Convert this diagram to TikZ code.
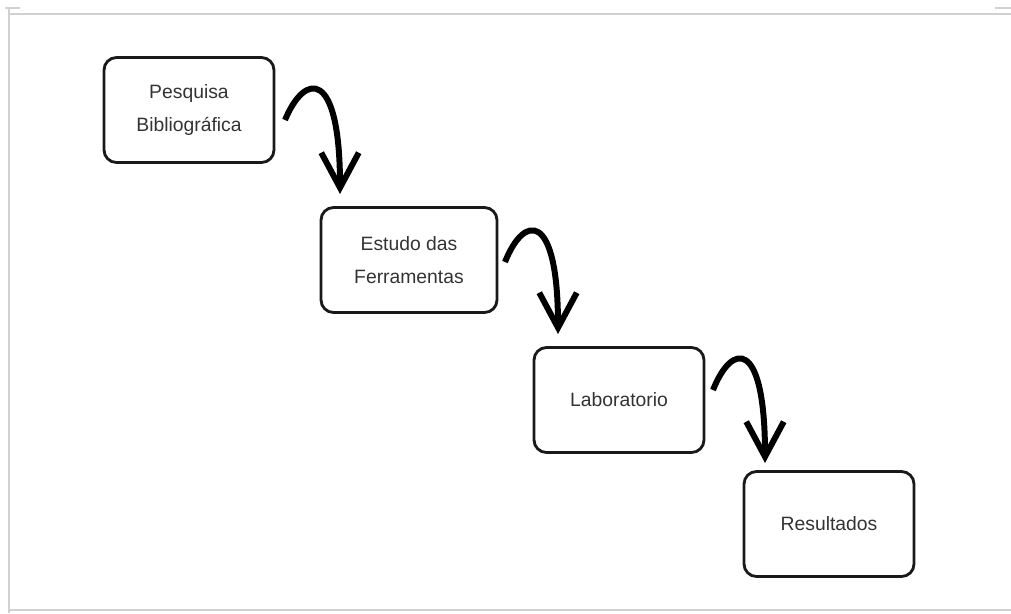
\documentclass[tikz,border=0pt]{standalone}
\usepackage{fontspec}
\setmainfont{Liberation Sans}
\usetikzlibrary{arrows.meta}
\begin{document}
\begin{tikzpicture}[x=0.02cm,y=-0.02cm,
  stepbox/.style={draw=black!90, line width=1.6pt, rounded corners=0.25cm, minimum width=3.4cm, minimum height=2.1cm, align=center, font=\fontsize{11}{19}\selectfont, text=black!80},
  flow/.style={line width=3.4pt, black, -{Straight Barb[length=0.7cm,width=0.75cm]}},
  frame/.style={draw=black!18, line width=1pt}]
\useasboundingbox (0,0) rectangle (1011,613);
% frame
\draw[frame] (10,14) -- (1011,14);
\draw[frame] (9,8) -- (9,613);
\draw[frame] (10,610) -- (1011,610);
\draw[frame] (5,8) -- (20,8);
\draw[frame] (995,8) -- (1011,8);
% boxes
\node[stepbox] (a) at (189,110) {Pesquisa\\Bibliográfica};
\node[stepbox, minimum width=3.52cm] (b) at (409,260) {Estudo das\\Ferramentas};
\node[stepbox] (c) at (619,400) {Laboratorio};
\node[stepbox] (d) at (829,524) {Resultados};
% arrow ends
\coordinate (a1) at (285,120); \coordinate (a2) at (340,194);
\coordinate (b1) at (505,262); \coordinate (b2) at (558,334);
\coordinate (c1) at (713,390); \coordinate (c2) at (765,463);
\draw[flow] (a1) .. controls (305,72) and (340,68) .. (a2);
\draw[flow] (b1) .. controls (524,214) and (558,210) .. (b2);
\draw[flow] (c1) .. controls (732,342) and (765,338) .. (c2);
\end{tikzpicture}
\end{document}
